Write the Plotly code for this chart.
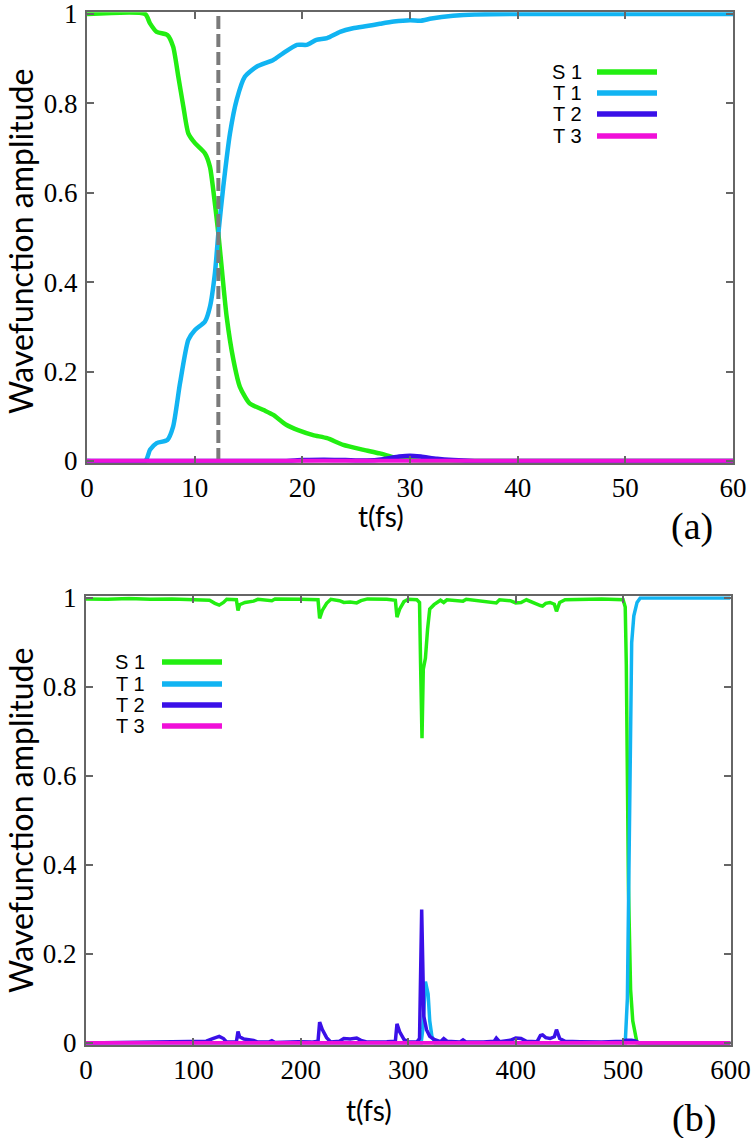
import plotly.graph_objects as go

W, H = 752, 1138

# ---------------- Panel (a) data ----------------
t_s1_a = [0, 5.4, 5.85, 6.47, 7.46, 8.0, 8.48, 8.95, 9.41, 10.03, 10.96, 11.42, 11.73, 12.2, 12.5,
          12.97, 13.6, 14.2, 15.1, 16.4, 17.3, 18.5, 19.6, 21.0, 22.3, 23.8, 25.7, 27.2, 28.5, 30, 32, 60]
s1_a = [1.0, 1.0, 0.979, 0.960, 0.953, 0.927, 0.860, 0.793, 0.733, 0.711, 0.688, 0.658, 0.606, 0.509, 0.435,
        0.323, 0.226, 0.166, 0.129, 0.114, 0.103, 0.081, 0.069, 0.058, 0.051, 0.036, 0.025, 0.017, 0.008, 0.002, 0.0, 0.0]

t_t1_a = [0, 5.4, 5.85, 6.47, 7.46, 8.0, 8.64, 9.41, 10.03, 10.96, 11.42, 11.88, 12.2, 12.66, 13.28, 13.9,
          14.67, 15.75, 17.3, 18.2, 19.5, 20.4, 21.3, 22.3, 23.5, 24.7, 26.0, 27.2, 28.5, 30, 31, 32, 34, 36, 40, 60]
t1_a = [0.0, 0.0, 0.025, 0.040, 0.047, 0.077, 0.174, 0.271, 0.293, 0.312, 0.345, 0.420, 0.509, 0.614, 0.733, 0.808,
        0.860, 0.882, 0.897, 0.912, 0.931, 0.931, 0.942, 0.946, 0.960, 0.968, 0.973, 0.978, 0.983, 0.986, 0.985, 0.990,
        0.996, 0.999, 1.0, 1.0]

t_t2_a = [0, 18, 20, 22, 24, 26, 27.5, 29, 30, 31, 32.5, 34, 36, 60]
t2_a = [0.0, 0.0, 0.002, 0.003, 0.002, 0.001, 0.004, 0.010, 0.012, 0.010, 0.005, 0.002, 0.0, 0.0]

t_t3_a = [0, 60]
t3_a = [0.0, 0.0]

t_cross = 12.2  # dashed marker time (fs)

# ---------------- Panel (b) data ----------------
t_s1_b = [0, 20, 40, 60, 80, 100, 115, 120, 124, 128, 131, 140, 141.5, 143, 148, 156, 160, 173, 176, 200, 216,
          217.5, 220, 224, 228, 236, 240, 246, 252, 256, 262, 280, 288, 289.5, 292, 296, 300, 308, 310.5, 311.5,
          312.8, 314, 316, 318, 320, 324, 330, 333, 336, 351, 354, 382, 385, 395, 400, 405, 410, 423, 425, 428,
          432, 436, 438, 441, 446, 480, 500, 502, 503, 505, 507, 509, 511, 513, 600]
s1_b = [0.998, 0.997, 0.999, 0.997, 0.998, 0.997, 0.995, 0.988, 0.984, 0.990, 0.997, 0.996, 0.972, 0.985, 0.990,
        0.993, 0.997, 0.994, 0.998, 0.997, 0.996, 0.954, 0.972, 0.988, 0.997, 0.994, 0.990, 0.991, 0.989, 0.994,
        0.998, 0.997, 0.995, 0.957, 0.975, 0.992, 0.997, 0.996, 0.990, 0.850, 0.685, 0.840, 0.865, 0.930, 0.975,
        0.985, 0.995, 0.990, 0.996, 0.993, 0.997, 0.989, 0.996, 0.994, 0.989, 0.990, 0.996, 0.983, 0.982, 0.988,
        0.990, 0.986, 0.970, 0.990, 0.996, 0.998, 0.996, 0.980, 0.850, 0.350, 0.120, 0.050, 0.020, 0.0, 0.0]

t_t1_b = [0, 312, 313.5, 316, 318.5, 320, 322, 325, 500, 502, 504, 506, 508, 510, 513, 516, 600]
t1_b = [0.0, 0.0, 0.03, 0.138, 0.11, 0.05, 0.015, 0.0, 0.0, 0.0, 0.1, 0.55, 0.9, 0.96, 0.99, 1.0, 1.0]

t_t2_b = [0, 100, 112, 118, 124, 128, 131, 140, 141.5, 143, 147, 150, 156, 160, 170, 173, 176, 190, 198, 210,
          216, 217.5, 220, 224, 228, 236, 240, 246, 252, 256, 262, 280, 288, 289.5, 292, 296, 300, 308, 310.5,
          312.5, 314.5, 317, 320, 324, 330, 333, 336, 348, 351, 354, 370, 380, 382, 385, 395, 400, 405, 410, 420,
          423, 425, 428, 432, 436, 438, 441, 446, 460, 480, 500, 503, 508, 512, 515, 600]
t2_b = [0.0, 0.002, 0.004, 0.010, 0.015, 0.010, 0.002, 0.003, 0.026, 0.014, 0.009, 0.008, 0.006, 0.002, 0.002,
        0.005, 0.001, 0.002, 0.003, 0.002, 0.004, 0.047, 0.030, 0.012, 0.002, 0.004, 0.010, 0.009, 0.011, 0.006,
        0.002, 0.003, 0.004, 0.043, 0.025, 0.008, 0.003, 0.002, 0.010, 0.300, 0.060, 0.030, 0.015, 0.008, 0.003,
        0.010, 0.004, 0.002, 0.007, 0.002, 0.002, 0.004, 0.011, 0.003, 0.006, 0.011, 0.010, 0.004, 0.003, 0.017,
        0.018, 0.012, 0.010, 0.014, 0.030, 0.010, 0.004, 0.003, 0.002, 0.004, 0.006, 0.006, 0.004, 0.0, 0.0]

t_t3_b = [0, 600]
t3_b = [0.0, 0.0]

# Axes ticks
xticks_a = [0, 10, 20, 30, 40, 50, 60]
xticks_b = [0, 100, 200, 300, 400, 500, 600]
yticks = [0, 0.2, 0.4, 0.6, 0.8, 1.0]
yticktext = ["0", "0.2", "0.4", "0.6", "0.8", "1"]

state_names = ["S 1", "T 1", "T 2", "T 3"]
colors = ["#22EE11", "#11B4F2", "#3A10E8", "#F010D8"]

# ---------------- Figure ----------------
fig = go.Figure()

def add(x, y, color, width, xa, ya, shape="linear"):
    fig.add_trace(go.Scatter(x=x, y=y, mode="lines",
                             line=dict(color=color, width=width, shape=shape, smoothing=0.6),
                             xaxis=xa, yaxis=ya, showlegend=False, hoverinfo="skip"))

# panel a
add(t_s1_a, s1_a, colors[0], 4.5, "x", "y", "spline")
add(t_t1_a, t1_a, colors[1], 4.5, "x", "y", "spline")
add(t_t2_a, t2_a, colors[2], 4.5, "x", "y", "spline")
fig.add_trace(go.Scatter(x=[t_cross, t_cross], y=[0, 1], mode="lines",
                         line=dict(color="#7a7a7a", width=4, dash="13px,5px"),
                         xaxis="x", yaxis="y", showlegend=False, hoverinfo="skip"))
add(t_t3_a, t3_a, colors[3], 4.5, "x", "y")

# panel b
add(t_s1_b, s1_b, colors[0], 3.5, "x2", "y2")
add(t_t1_b, t1_b, colors[1], 3.5, "x2", "y2")
add(t_t2_b, t2_b, colors[2], 3.5, "x2", "y2")
add(t_t3_b, t3_b, colors[3], 4, "x2", "y2")

# geometry (pixels)
pad = 0.004
def ydom(top_px, bot_px):
    span = bot_px - top_px
    return [1 - (bot_px + pad * span) / H, 1 - (top_px - pad * span) / H]

axis_common = dict(showline=True, linecolor="#666666", linewidth=2, mirror="ticks",
                   ticks="inside", ticklen=7, tickwidth=1.5, tickcolor="#666666",
                   showgrid=False, zeroline=False, automargin=False, ticklabeloverflow="allow",
                   tickfont=dict(family="Liberation Serif, Times New Roman, serif", size=27, color="black"))

fig.update_layout(
    width=W, height=H, margin=dict(l=0, r=0, t=0, b=0, pad=0, autoexpand=False),
    paper_bgcolor="white", plot_bgcolor="white",
    xaxis=dict(domain=[87 / W, 733 / W], range=[0, 60], tickvals=xticks_a, anchor="y",
               ticklabelstandoff=0, **axis_common),
    yaxis=dict(domain=ydom(14, 461), range=[-pad, 1 + pad], tickvals=yticks, ticktext=yticktext,
               anchor="x", ticklabelstandoff=2, **axis_common),
    xaxis2=dict(domain=[86 / W, 730.5 / W], range=[0, 600], tickvals=xticks_b, anchor="y2",
                ticklabelstandoff=0, **axis_common),
    yaxis2=dict(domain=ydom(598, 1043), range=[-pad, 1 + pad], tickvals=yticks, ticktext=yticktext,
                anchor="x2", ticklabelstandoff=2, **axis_common),
)

ann = []
# y titles
for yc in (242, 821):
    ann.append(dict(text="Wavefunction amplitude", x=20 / W, y=1 - yc / H, xref="paper", yref="paper",
                    textangle=-90, showarrow=False, xanchor="center", yanchor="middle",
                    font=dict(family="Lato, Open Sans, sans-serif", size=32, color="black")))
# x titles
for xc, yc in ((381, 516), (369, 1110)):
    ann.append(dict(text="t(fs)", x=xc / W, y=1 - yc / H, xref="paper", yref="paper",
                    showarrow=False, xanchor="center", yanchor="middle",
                    font=dict(family="Lato, Open Sans, sans-serif", size=28, color="black")))
# panel labels
for lab, xc, yc in (("(a)", 692, 527), ("(b)", 694, 1118)):
    ann.append(dict(text=lab, x=xc / W, y=1 - yc / H, xref="paper", yref="paper", showarrow=False,
                    font=dict(family="Liberation Serif, Times New Roman, serif", size=38, color="black"),
                    xanchor="center", yanchor="middle"))

# legends (text left of line sample)
shapes = []
legend_specs = [(584, 597, 657, [72, 93, 114, 136]), (147, 162, 222, [662, 684, 705, 726])]
for txt_right, l0, l1, ys in legend_specs:
    for name, col, yp in zip(state_names, colors, ys):
        ann.append(dict(text=name, x=txt_right / W, y=1 - yp / H, xref="paper", yref="paper",
                        showarrow=False, xanchor="right", yanchor="middle",
                        font=dict(family="Liberation Sans, Arial, sans-serif", size=20, color="black")))
        shapes.append(dict(type="line", xref="paper", yref="paper", x0=l0 / W, x1=l1 / W,
                           y0=1 - yp / H, y1=1 - yp / H, line=dict(color=col, width=5.5)))

fig.update_layout(annotations=ann, shapes=shapes)
fig.write_html("out.html", config={"displayModeBar": False},
               post_script="document.body.style.margin='0px';document.body.style.overflow='hidden';")
